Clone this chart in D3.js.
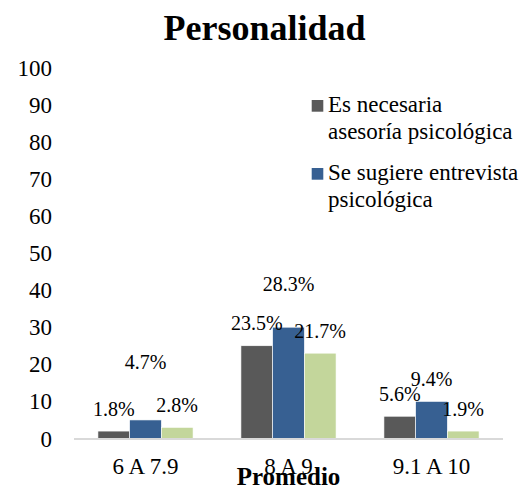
<!DOCTYPE html>
<html>
<head>
<meta charset="utf-8">
<script src="https://cdn.jsdelivr.net/npm/d3@7"></script>
<style>
  html, body { margin: 0; padding: 0; background: #fff; }
  svg { display: block; }
</style>
</head>
<body>
<svg id="chart" width="528" height="486"></svg>
<script>
'use strict';
// values (bars are counts, labels are the percentages)
let categories = ["6 A 7.9", "8 A 9", "9.1 A 10"];
let asesoria = [2, 25, 6];
let entrevista = [5, 30, 10];
let otros = [3, 23, 2];
let asesoriaPct = ["1.8%", "23.5%", "5.6%"];
let entrevistaPct = ["4.7%", "28.3%", "9.4%"];
let otrosPct = ["2.8%", "21.7%", "1.9%"];
let yTicks = [0, 10, 20, 30, 40, 50, 60, 70, 80, 90, 100];
let legendLines = [
    ["Es necesaria", "asesoría psicológica"],
    ["Se sugiere entrevista", "psicológica"]
];

let colors = ["#595959", "#376092", "#c3d69b"];
let series = [
    {values: asesoria, labels: asesoriaPct},
    {values: entrevista, labels: entrevistaPct},
    {values: otros, labels: otrosPct}
];
let serif = "'Liberation Serif', 'Times New Roman', serif";

let svg = d3.select("#chart");

let x = d3.scaleBand()
    .domain(categories)
    .range([74, 503])
    .padding(0);

let xs = d3.scaleBand()
    .domain(d3.range(series.length))
    .range([0, x.bandwidth()])
    .paddingInner(0)
    .paddingOuter(0.755);

let y = d3.scaleLinear()
    .domain([0, 100])
    .range([438.5, 67.5]);

svg.append("text")
    .attr("x", 264.5)
    .attr("y", 40)
    .attr("text-anchor", "middle")
    .style("font-family", serif)
    .style("font-size", "36px")
    .style("font-weight", "bold")
    .text("Personalidad");

// y tick labels, no axis line
let yAxis = svg.append("g")
    .attr("transform", "translate(52,0)")
    .call(d3.axisLeft(y).tickValues(yTicks).tickSize(0).tickPadding(0));
yAxis.select(".domain").remove();
yAxis.selectAll("text")
    .style("font-family", serif)
    .style("font-size", "23px")
    .attr("dy", "0.33em")
    .attr("fill", "#000");

let groups = svg.selectAll("g.grp")
    .data(categories)
    .enter().append("g")
    .attr("class", "grp")
    .attr("transform", d => "translate(" + x(d) + ",0)");

groups.selectAll("rect")
    .data((c, ci) => series.map((s, si) => ({si: si, v: s.values[ci]})))
    .enter().append("rect")
    .attr("x", d => xs(d.si))
    .attr("width", xs.bandwidth())
    .attr("y", d => y(d.v))
    .attr("height", d => y(0) - y(d.v))
    .attr("fill", d => colors[d.si])
    .attr("stroke", "#fff")
    .attr("stroke-width", 0.6);

// category axis line
svg.append("line")
    .attr("x1", x.range()[0])
    .attr("x2", x.range()[1])
    .attr("y1", y(0) + 0.5)
    .attr("y2", y(0) + 0.5)
    .attr("stroke", "#d9d9d9")
    .attr("stroke-width", 1.8);

// data labels; two of them were dragged higher in the original
let labelLift = {"1-0": 35, "1-1": 21};
groups.selectAll("text.lbl")
    .data((c, ci) => series.map((s, si) => ({si: si, ci: ci, v: s.values[ci], t: s.labels[ci]})))
    .enter().append("text")
    .attr("class", "lbl")
    .attr("x", d => xs(d.si) + xs.bandwidth() / 2)
    .attr("y", d => y(d.v) - 15.5 - (labelLift[d.si + "-" + d.ci] || 0))
    .attr("text-anchor", "middle")
    .style("font-family", serif)
    .style("font-size", "20px")
    .text(d => d.t);

svg.selectAll("text.cat")
    .data(categories)
    .enter().append("text")
    .attr("class", "cat")
    .attr("x", d => x(d) + x.bandwidth() / 2)
    .attr("y", 474)
    .attr("text-anchor", "middle")
    .style("font-family", serif)
    .style("font-size", "23px")
    .text(d => d);

svg.append("text")
    .attr("x", 288.5)
    .attr("y", 485)
    .attr("text-anchor", "middle")
    .style("font-family", serif)
    .style("font-size", "25px")
    .style("font-weight", "bold")
    .text("Promedio");

// legend (only the first two entries fit in the original)
let legendTop = [100, 168];
let legend = svg.selectAll("g.leg")
    .data(legendLines)
    .enter().append("g")
    .attr("class", "leg")
    .attr("transform", (d, i) => "translate(0," + legendTop[i] + ")");
legend.append("rect")
    .attr("x", 311.7)
    .attr("y", 0)
    .attr("width", 11.6)
    .attr("height", 11.7)
    .attr("fill", (d, i) => colors[i]);
legend.append("text")
    .attr("x", 328)
    .attr("y", 12)
    .style("font-family", serif)
    .style("font-size", "23px")
    .selectAll("tspan")
    .data(d => d)
    .enter().append("tspan")
    .attr("x", 328)
    .attr("dy", (d, i) => i === 0 ? 0 : 26.5)
    .text(d => d);
</script>
</body>
</html>
